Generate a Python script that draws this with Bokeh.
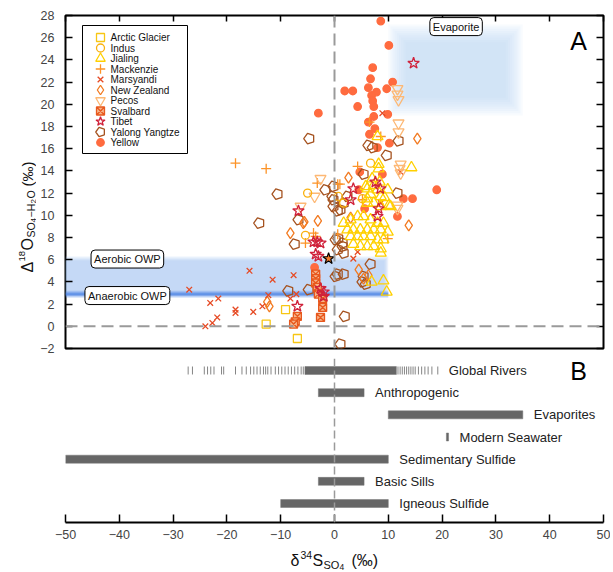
import math
from bokeh.plotting import figure
from bokeh.models import Range1d, LinearAxis, FixedTicker, Label, Span
from bokeh.layouts import column, row
from bokeh.embed import file_html
from bokeh.resources import INLINE
from bokeh.core.properties import value

# ---------------- data ----------------
Y_TICKS = list(range(-2, 29, 2))
X_TICKS = list(range(-50, 51, 10))

ARCTIC_X = [-9.1, -12.7, -6.9]
ARCTIC_Y = [1.5, 0.2, -1.1]

INDUS_X = [6.7, -5.0, 0.7, 5.2, -5.4, 1.7]
INDUS_Y = [14.7, 12.0, 11.7, 11.5, 8.2, 11.1]

JIALING_X = [6.1, 7.3, 8.6, 10.4, 1.7, 3.0, 4.3, 5.4, 6.7, 8.0, 9.1, 2.4, 3.5, 4.8, 6.1, 7.3, 8.6, 9.9,
             3.0, 4.3, 5.4, 6.7, 8.0, 9.1, 3.5, 4.8, 6.1, 7.3, 8.6, 8.6, 8.0, 8.2, 8.2, 14.3, 6.7, 8.0,
             8.6, 9.9, 6.1, 9.1, 9.7, 6.9, 6.1, 7.3, 10.1, 5.8, 7.0, 8.4, 9.3]
JIALING_Y = [11.1, 11.1, 10.8, 10.8, 9.3, 9.6, 9.9, 9.9, 9.6, 9.3, 9.3, 8.7, 8.7, 8.7, 8.7, 8.7, 8.7, 8.5,
             8.1, 8.1, 8.1, 8.1, 7.8, 7.8, 7.4, 7.2, 7.2, 7.2, 7.0, 6.6, 17.1, 14.6, 14.2, 14.3, 11.9, 12.3,
             11.7, 12.3, 11.5, 4.1, 3.1, 4.0, 12.4, 12.7, 10.9, 12.6, 13.3, 13.0, 11.6]

MACKENZIE_X = [-18.4, -12.7, 6.5, 4.3, 0.6, 1.0, 8.6, -5.4, -3.9, 9.9, 5.2, -3.5, 0.6, -3.2]
MACKENZIE_Y = [14.7, 14.2, 18.4, 14.4, 12.8, 12.8, 17.1, 7.5, 8.4, 7.9, 11.4, 8.1, 8.3, 12.9]

MARSYANDI_X = [-15.8, -27.0, -11.5, -7.6, -23.1, -21.6, -18.4, -18.4, -15.1, -21.8, -22.7, -24.0,
               -13.4, -12.3, -8.2, -7.1, 8.9, 12.3, 8.6, 3.5, 4.3, 8.6]
MARSYANDI_Y = [5.0, 3.3, 4.2, 4.6, 2.1, 2.5, 1.5, 1.2, 1.3, 0.8, 0.3, 0.0,
               1.8, 2.8, 2.5, 2.9, 19.2, 13.9, 11.2, 6.1, 6.7, 11.1]

NZ_X = [15.4, 2.6, 13.8, -3.1, 4.5, 6.3, 5.4, 3.0, -8.2, -5.8, -12.1, -5.6, -12.5]
NZ_Y = [16.9, 13.4, 9.1, 9.5, 5.1, 4.6, 4.3, 9.8, 8.4, 9.3, 1.8, 9.4, 2.2]

PECOS_X = [11.7, 11.7, 11.9, 11.9, 11.9, 12.3, 12.1, 12.3, -2.6, -3.7, -6.3, 11.7, 11.7]
PECOS_Y = [21.4, 20.9, 20.4, 18.3, 17.5, 14.6, 14.2, 13.8, 13.3, 11.7, 10.8, 10.9, 10.6]

SVALBARD_X = [-3.5, -3.5, -3.5, -3.2, -3.0, -2.2, -2.2, -2.6, -6.9, -7.3, -7.6]
SVALBARD_Y = [4.7, 4.3, 3.9, 3.5, 2.9, 2.5, 1.7, 0.8, 0.9, 0.4, 0.2]

TIBET_X = [14.7, -6.7, -6.9, -3.9, -3.2, -2.6, -3.5, -3.0, -2.6, -2.0, -2.0, 3.5, 7.6, 8.5, 3.0, 8.2, 8.0]
TIBET_Y = [23.7, 10.4, 1.8, 7.6, 7.6, 7.5, 6.5, 6.3, 3.4, 3.1, 2.7, 12.4, 13.0, 12.4, 11.4, 10.6, 9.9]

YALONG_X = [-4.7, 6.3, 7.1, 11.9, 9.7, -1.7, 5.4, 11.7, -0.4, 2.4, -0.2, -0.2, 0.6, 1.1, 1.7, 0.2, 0.7,
            1.5, 0.6, 1.7, 1.5, 6.7, 0.6, 1.7, 5.4, -10.6, -14.0, -7.4, -6.7, -4.8, -8.6, 0.2, 5.2, 5.8,
            1.9, 1.1, -0.2]
YALONG_Y = [16.9, 16.3, 16.1, 16.7, 15.4, 12.3, 13.7, 12.0, 11.7, 11.7, 11.4, 10.8, 10.4, 10.5, 11.1, 7.8,
            7.9, 7.5, 6.9, 6.6, 7.2, 5.6, 4.7, 4.7, 4.5, 11.9, 9.3, 7.4, 9.6, 3.3, 3.2, 4.5, 4.0, 3.8,
            0.9, -1.6, 12.6]

YELLOW_X = [8.6, 10.1, 7.1, 6.7, 6.3, 7.8, 6.9, 1.9, 3.4, 10.8, 9.7, 7.1, 7.3, 4.3, -3.0, 7.3, 9.9, 7.5,
            6.5, 8.0, 10.2, 4.7, 8.9, 19.0, 12.8, 14.5, 11.7, -3.7, 6.3, 4.5, 5.6]
YELLOW_Y = [27.5, 25.3, 23.3, 22.3, 21.5, 21.1, 20.8, 21.2, 21.2, 22.0, 21.4, 20.3, 19.8, 19.8, 19.2, 18.9,
            19.1, 17.8, 17.3, 16.1, 16.5, 13.9, 13.7, 12.3, 11.5, 11.5, 9.9, 5.3, 18.4, 12.3, 10.6]

HIGHLIGHT_X = [-1.1]
HIGHLIGHT_Y = [6.1]

AEROBIC_OWP = [3.0, 6.0]
ANAEROBIC_OWP = 2.9
OWP_D34S = [-50, 10]
EVAP_D34S = [10, 35]
EVAP_D18O = [19.0, 27.2]

SOURCES = ["Global Rivers", "Anthropogenic", "Evaporites", "Modern Seawater",
           "Sedimentary Sulfide", "Basic Sills", "Igneous Sulfide"]
SRC_LO = [-5.5, -3.0, 10.0, 20.8, -50.0, -3.0, -10.0]
SRC_HI = [11.5, 5.5, 35.0, 21.2, 10.0, 5.5, 10.0]
RIVER_TICKS = [-27.2, -26.4, -24.2, -23.6, -23.0, -22.4, -21.0, -20.6, -18.4, -17.2, -16.4, -15.6, -15.0,
               -14.4, -13.8, -13.2, -12.8, -12.4, -11.8, -11.0, -10.4, -9.8, -9.2, -8.6, -8.0, -7.4, -6.8,
               -6.2, -5.8, 11.8, 12.2, 12.6, 13.0, 13.4, 13.8, 14.2, 14.6, 15.0, 15.6, 16.2, 16.8, 17.4,
               18.1, 19.2]

# ---------------- layout ----------------
FONT = "Liberation Sans"
W = 610
YLAB_W = 36
FRAME_L, FRAME_R = 65, 603
A_H = 358           # panel A figure height (frame 15..348, room below for the "-2" label)
TXT = "#444444"


def px2x(px):
    return -50 + (px - FRAME_L) / (FRAME_R - FRAME_L) * 100


def px2y(py):
    return 28 - (py - 15) / 333 * 30


pA = figure(width=W - YLAB_W, height=A_H, x_range=Range1d(-50, 50), y_range=Range1d(-2, 28),
            output_backend="svg", toolbar_location=None, x_axis_location=None,
            min_border_left=FRAME_L - YLAB_W, min_border_right=W - FRAME_R, min_border_top=15,
            min_border_bottom=A_H - 348)
pA.grid.visible = False
pA.outline_line_color = "black"
pA.outline_line_width = 2
pA.outline_line_alpha = 1

ya = pA.yaxis[0]
ya.ticker = FixedTicker(ticks=Y_TICKS)
ya.major_tick_in = 7
ya.major_tick_out = 0
ya.minor_tick_line_color = None
ya.axis_line_color = None
ya.major_tick_line_width = 1.5
ya.major_label_text_font = FONT
ya.major_label_text_font_size = "12.5px"
ya.major_label_text_color = TXT
ya.major_label_standoff = 11

top_ax = LinearAxis(ticker=FixedTicker(ticks=X_TICKS), major_tick_in=6, major_tick_out=0,
                    minor_tick_line_color=None, axis_line_color=None, major_tick_line_width=1.5,
                    major_label_overrides={t: "" for t in X_TICKS}, major_label_standoff=0)
pA.add_layout(top_ax, "above")
right_ax = LinearAxis(ticker=FixedTicker(ticks=Y_TICKS), major_tick_in=7, major_tick_out=0,
                      minor_tick_line_color=None, axis_line_color=None, major_tick_line_width=1.5,
                      major_label_overrides={t: "" for t in Y_TICKS}, major_label_standoff=0)
pA.add_layout(right_ax, "right")

# shaded regions (soft edges by layering)
for k in range(6):
    pA.quad(left=[OWP_D34S[0]], right=[OWP_D34S[1] - 0.15 * k],
            bottom=[AEROBIC_OWP[0] - 0.4 + 0.08 * k], top=[AEROBIC_OWP[1] + 0.3 - 0.08 * k],
            fill_color="#a9c6f3", fill_alpha=0.16, line_color=None)
for h, a in [(0.3, 0.3), (0.16, 0.45), (0.07, 0.6)]:
    pA.quad(left=[OWP_D34S[0]], right=[OWP_D34S[1]],
            bottom=[ANAEROBIC_OWP - h], top=[ANAEROBIC_OWP + h],
            fill_color="#4f86e4", fill_alpha=a, line_color=None)
for k in range(9):
    pA.quad(left=[EVAP_D34S[0] + 0.4 * k], right=[EVAP_D34S[1] - 0.4 * k],
            bottom=[EVAP_D18O[0] + 0.2 * k], top=[EVAP_D18O[1] - 0.2 * k],
            fill_color="#bcd3f5", fill_alpha=0.1, line_color=None)

pA.add_layout(Span(location=0, dimension="height", line_color="#9a9a9a", line_width=2, line_dash="12 6"))
pA.add_layout(Span(location=0, dimension="width", line_color="#9a9a9a", line_width=2, line_dash="12 6"))

SERIES = [
    ("Arctic Glacier", "square", "#f7c614", False, ARCTIC_X, ARCTIC_Y, 8),
    ("Indus", "circle", "#f9b10f", False, INDUS_X, INDUS_Y, 8),
    ("Jialing", "triangle", "#ffd000", False, JIALING_X, JIALING_Y, 11),
    ("Mackenzie", "cross", "#fc9327", False, MACKENZIE_X, MACKENZIE_Y, 10),
    ("Marsyandi", "x", "#e64a24", False, MARSYANDI_X, MARSYANDI_Y, 8),
    ("New Zealand", "diamond", "#f27a21", False, NZ_X, NZ_Y, 11),
    ("Pecos", "inverted_triangle", "#fdb874", False, PECOS_X, PECOS_Y, 11),
    ("Svalbard", "square_x", "#e8581d", True, SVALBARD_X, SVALBARD_Y, 8),
    ("Tibet", "star", "#d0223b", False, TIBET_X, TIBET_Y, 12),
    ("Yalong Yangtze", "pentagon", "#a5521f", False, YALONG_X, YALONG_Y, 11),
    ("Yellow", "circle", "#ff6b3f", True, YELLOW_X, YELLOW_Y, 7.5),
]
DRAW_ORDER = [10, 9, 7, 5, 4, 3, 6, 1, 2, 8, 0]


def draw(p, marker, color, filled, xs, ys, size):
    if marker == "pentagon":
        try:
            return p.ngon(x=xs, y=ys, radius=size / 2, radius_units="screen", n=5, angle=math.pi / 2,
                          fill_color=None, line_color=color, line_width=1.3)
        except Exception:
            return p.scatter(x=xs, y=ys, marker="hex", size=size, fill_color=None,
                             line_color=color, line_width=1.3)
    if marker == "square_x":
        return p.scatter(x=xs, y=ys, marker=marker, size=size, fill_color="#f6b48a",
                         line_color=color, line_width=1.3)
    return p.scatter(x=xs, y=ys, marker=marker, size=size,
                     fill_color=color if filled else None, line_color=color,
                     line_width=1.3)


for i in DRAW_ORDER:
    name, mk, col, filled, xs, ys, sz = SERIES[i]
    draw(pA, mk, col, filled, xs, ys, sz)

pA.scatter(x=HIGHLIGHT_X, y=HIGHLIGHT_Y, marker="star", size=12, fill_color="#f07a2a", line_color="black",
           line_width=1.2)

# legend (drawn by hand to get full-size markers)
pA.quad(left=[px2x(82)], right=[px2x(187)], top=[px2y(25)], bottom=[px2y(153)],
        fill_color="white", line_color="black", line_width=1)
for i, (name, mk, col, filled, xs, ys, sz) in enumerate(SERIES):
    yy = px2y(37 + i * 10.5)
    draw(pA, mk, col, filled, [px2x(100)], [yy], min(sz, 9.5))
    pA.add_layout(Label(x=px2x(110), y=yy, text=name, text_font=FONT, text_font_size="10px",
                        text_baseline="middle", text_color="#111111"))

for txt, x, y in [("Evaporite", 22.6, 27.0), ("Aerobic OWP", -38.5, 6.06), ("Anaerobic OWP", -38.5, 2.77)]:
    pA.add_layout(Label(x=x, y=y, text=txt, text_align="center", text_baseline="middle",
                        text_font=FONT, text_font_size="11px", text_color="#111111",
                        background_fill_color="white", border_line_color="black",
                        border_line_width=1, padding=3, border_radius=4))

pA.add_layout(Label(x=px2x(578), y=px2y(40), text="A", text_align="center", text_baseline="middle",
                    text_font=FONT, text_font_size="25px", text_color="black"))

# y-axis label (rotated, pieces for super/subscripts) in its own strip
ylab = figure(width=YLAB_W, height=A_H, x_range=Range1d(0, YLAB_W), y_range=pA.y_range,
              output_backend="svg", toolbar_location=None, x_axis_location=None, y_axis_location=None,
              min_border_left=0, min_border_right=0, min_border_top=15, min_border_bottom=A_H - 348)
ylab.grid.visible = False
ylab.outline_line_color = None
for txt, size, dy, dx in [("Δ", 16, 0, 0), ("18", 9.5, 11, -6), ("O", 16, 22, 0),
                          ("SO", 10.5, 35, 3.5), ("4", 8, 50, 5.5), ("−H", 10.5, 55, 3.5),
                          ("2", 8, 69, 5.5), ("O", 10.5, 74, 3.5), ("(‰)", 15, 86, 0)]:
    ylab.add_layout(Label(x=27 + dx, y=px2y(272 - dy), text=txt, angle=math.pi / 2,
                          text_font=FONT, text_font_size=f"{size}px", text_baseline="alphabetic",
                          text_align="left", text_color="#111111"))

# ---------------- panel B ----------------
ROW_PX = 22.17                      # vertical pixels per source row
B_TOP, B_AXIS = A_H, 522            # page y of panel B top and of its axis line
b_top = 6 + (370 - B_TOP) / ROW_PX
b_bot = b_top - (B_AXIS - B_TOP) / ROW_PX
pB = figure(width=W, height=(B_AXIS - B_TOP) + 22, x_range=pA.x_range, y_range=Range1d(b_bot, b_top),
            output_backend="svg", toolbar_location=None, y_axis_location=None,
            min_border_left=FRAME_L, min_border_right=W - FRAME_R, min_border_top=0, min_border_bottom=22)
pB.grid.visible = False
pB.outline_line_color = None
xb = pB.xaxis[0]
xb.ticker = FixedTicker(ticks=X_TICKS)
xb.major_tick_in = 8
xb.major_tick_out = 0
xb.minor_tick_line_color = None
xb.axis_line_width = 2
xb.major_tick_line_width = 1.5
xb.major_label_text_font = FONT
xb.major_label_text_font_size = "12.5px"
xb.major_label_text_color = TXT
xb.major_label_standoff = 7

pB.add_layout(Span(location=0, dimension="height", line_color="#9a9a9a", line_width=1.5, line_dash="8 4"))

rows = [6 - i for i in range(len(SOURCES))]
pB.hbar(y=rows, left=SRC_LO, right=SRC_HI, height=0.36, fill_color="#666666", line_color="#777777",
        line_width=0.5)
pB.segment(x0=RIVER_TICKS, x1=RIVER_TICKS, y0=[6 - 0.18] * len(RIVER_TICKS), y1=[6 + 0.18] * len(RIVER_TICKS),
           line_color="#666666", line_width=1, line_alpha=0.8)
lab_x = [max(SRC_HI[0], max(RIVER_TICKS))] + SRC_HI[1:]
pB.text(x=lab_x, y=rows, text=SOURCES, x_offset=11, text_baseline="middle", text_align="left",
        text_font=value(FONT), text_font_size=value("13px"), text_color="#222222")
pB.add_layout(Label(x=px2x(578), y=6, text="B", text_align="center", text_baseline="middle",
                    text_font=FONT, text_font_size="25px", text_color="black"))

# x-axis label strip (frame aligned with panel B); y in pixels above the strip bottom (page y 570)
xlab = figure(width=W, height=26, x_range=pA.x_range, y_range=Range1d(0, 26),
              output_backend="svg", toolbar_location=None, x_axis_location=None, y_axis_location=None,
              min_border_left=FRAME_L, min_border_right=W - FRAME_R, min_border_top=0, min_border_bottom=0)
xlab.grid.visible = False
xlab.outline_line_color = None
for txt, size, dx, dy in [("δ", 16, 0, 0), ("34", 10.5, 10, 6), ("S", 16, 22, 0),
                          ("SO", 11, 33, -4), ("4", 8.5, 49, -6), ("(‰)", 16, 61, 0)]:
    xlab.add_layout(Label(x=px2x(290 + dx), y=570 - 560 + dy, text=txt, text_font=FONT,
                          text_font_size=f"{size}px", text_baseline="alphabetic", text_align="left",
                          text_color="#111111"))

layout = column(row(ylab, pA, spacing=0), pB, xlab, spacing=0)
open("out.html", "w").write(file_html(layout, INLINE))
